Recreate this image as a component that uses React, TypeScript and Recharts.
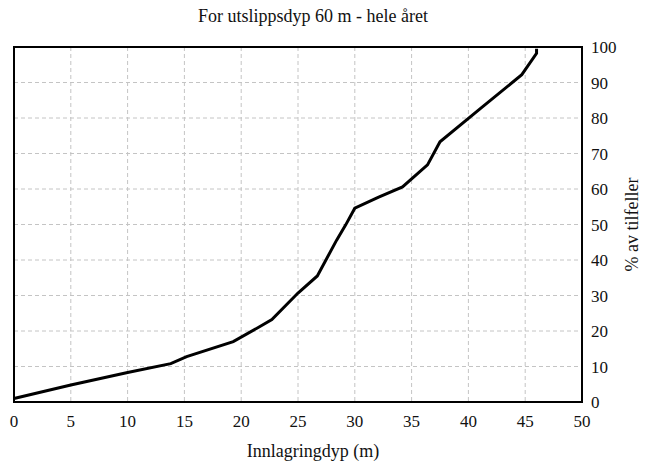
import { LineChart, Line, XAxis, YAxis, CartesianGrid, ReferenceArea } from "recharts";

// Innlagringdyp (m) vs % av tilfeller
const depths = [0, 5, 10, 13.8, 15.2, 19.3, 21.5, 22.7, 25, 26.7, 28.4, 29.2, 30, 32.1, 34.2, 36.4, 37.5, 41.1, 44.7, 46, 46];
const percents = [1, 4.8, 8.3, 10.8, 12.8, 17, 21, 23.2, 30.7, 35.5, 45.6, 49.9, 54.6, 57.7, 60.6, 66.8, 73.3, 82.8, 92.2, 98.2, 99.5];

const xTicks = [0, 5, 10, 15, 20, 25, 30, 35, 40, 45, 50];
const yTicks = [0, 10, 20, 30, 40, 50, 60, 70, 80, 90, 100];

const TITLE = "For utslippsdyp 60 m - hele året";
const X_LABEL = "Innlagringdyp (m)";
const Y_LABEL = "% av tilfeller";

const data = depths.map((x, i) => ({ x, y: percents[i] }));

const FONT = "Liberation Serif, Times New Roman, serif";

function XTick({ x, y, payload }: any) {
  return (
    <text x={x} y={y} dy="0.71em" textAnchor="middle" fill="#111" fontSize={17} fontFamily={FONT}>
      {payload.value}
    </text>
  );
}

function YTick({ x, y, payload }: any) {
  return (
    <text x={x} y={y} dy="0.355em" textAnchor="start" fill="#111" fontSize={17} fontFamily={FONT}>
      {payload.value}
    </text>
  );
}

export default function App() {
  return (
    <div style={{ position: "absolute", left: 0, top: 0, width: 651, height: 466, background: "#fff", fontFamily: FONT }}>
      <div
        style={{
          position: "absolute",
          left: 0,
          width: 626,
          top: 6,
          textAlign: "center",
          fontSize: 18,
          color: "#111",
          whiteSpace: "nowrap",
        }}
      >
        {TITLE}
      </div>
      <LineChart
        width={651}
        height={466}
        data={data}
        margin={{ top: 47, right: 0, left: 14, bottom: 0 }}
        style={{ fontFamily: FONT }}
      >
        <CartesianGrid stroke="#c4c4c4" strokeDasharray="4 3" strokeWidth={1} />
        <XAxis
          type="number"
          dataKey="x"
          domain={[0, 50]}
          ticks={xTicks}
          interval={0}
          height={64}
          axisLine={false}
          tickLine={false}
          tickMargin={7}
          tick={<XTick />}
          label={{
            value: X_LABEL,
            position: "insideBottom",
            offset: 9,
            dx: 15,
            fill: "#111",
            fontSize: 18,
            style: { fontFamily: FONT },
          }}
        />
        <YAxis
          type="number"
          orientation="right"
          domain={[0, 100]}
          ticks={yTicks}
          interval={0}
          width={69}
          axisLine={false}
          tickLine={false}
          tickMargin={3}
          tick={<YTick />}
          label={{
            value: Y_LABEL,
            angle: -90,
            position: "insideRight",
            offset: 19,
            fill: "#111",
            fontSize: 18,
            style: { textAnchor: "middle", fontFamily: FONT },
          }}
        />
        <ReferenceArea x1={0} x2={50} y1={0} y2={100} fill="none" stroke="#000" strokeWidth={2} ifOverflow="visible" />
        <Line
          type="linear"
          dataKey="y"
          stroke="#000"
          strokeWidth={3}
          dot={false}
          isAnimationActive={false}
        />
      </LineChart>
    </div>
  );
}
